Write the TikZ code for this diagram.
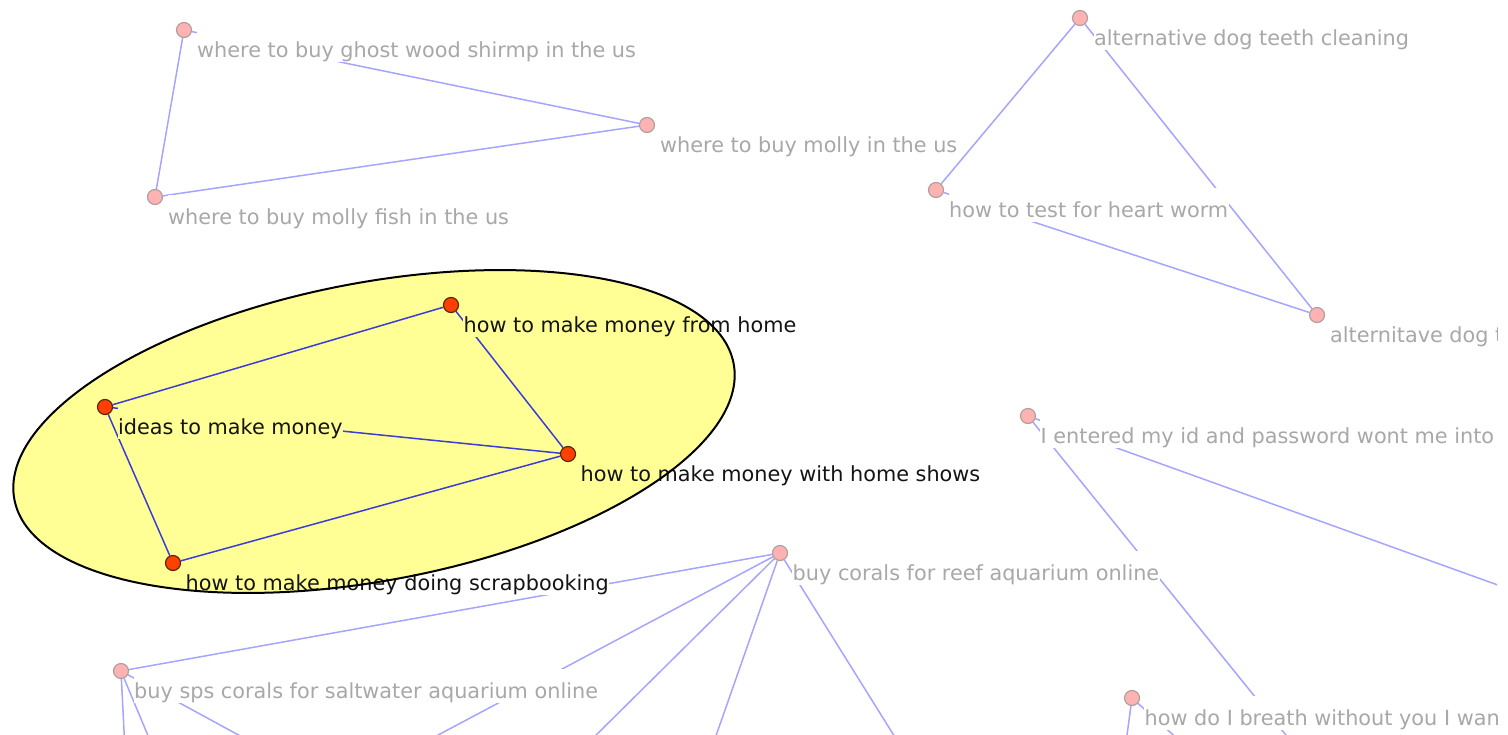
\documentclass[tikz,border=0pt]{standalone}
\usepackage{fontspec}
\newfontfamily\djv{DejaVu Sans}
\definecolor{dimblue}{RGB}{165,165,255}
\definecolor{hiblue}{RGB}{60,60,215}
\definecolor{dimtext}{RGB}{168,168,168}
\definecolor{hitext}{RGB}{20,20,20}
\definecolor{dimpink}{RGB}{255,178,178}
\definecolor{dimring}{RGB}{175,160,160}
\definecolor{hired}{RGB}{255,64,0}
\definecolor{hiring}{RGB}{90,40,0}
\definecolor{elly}{RGB}{255,255,150}
\pgfdeclarelayer{ellbg}
\pgfdeclarelayer{edges}
\pgfdeclarelayer{lblbg}
\pgfdeclarelayer{labels}
\pgfdeclarelayer{top}
\pgfsetlayers{ellbg,edges,lblbg,labels,main,top}
\tikzset{
  dimdot/.style={circle, minimum size=15pt, inner sep=0pt, fill=dimpink, draw=dimring, line width=1.2pt},
  hidot/.style={circle, minimum size=15pt, inner sep=0pt, fill=hired, draw=hiring, line width=1.2pt},
  lbl/.style={anchor=base west, inner xsep=0.5pt, inner ysep=0pt, text height=29pt, text depth=5pt,
    font=\djv\fontsize{20.8}{25}\selectfont},
  dimlbl/.style={lbl, text=dimtext},
  hilbl/.style={lbl, text=hitext},
  dimedge/.style={draw=dimblue, line width=1.5pt},
  hiedge/.style={draw=hiblue, line width=1.5pt},
  grpoutline/.style={draw=black, line width=2pt},
  grpshape/.style={rotate around={10.7:(E)}},
}
\newcommand{\viewclip}{\clip (0,0) rectangle (1497,734);}
\begin{document}
\begin{tikzpicture}[x=1pt,y=-1pt]
\useasboundingbox (0,0) rectangle (1508,734);
\viewclip
\coordinate (E) at (374,431.5);

% markers
\node[dimdot] (ghost) at (184,30) {};
\node[dimdot] (molly) at (647,125) {};
\node[dimdot] (mfish) at (155,197) {};
\node[dimdot] (altdog) at (1080,18) {};
\node[dimdot] (heart) at (936,190) {};
\node[dimdot] (altdog2) at (1317,315) {};
\node[hidot] (home) at (451,305) {};
\node[hidot] (ideas) at (105,407) {};
\node[hidot] (shows) at (568,454) {};
\node[hidot] (scrap) at (173,563) {};
\node[dimdot] (entered) at (1028,416) {};
\node[dimdot] (corals) at (780,553) {};
\node[dimdot] (sps) at (121,671) {};
\node[dimdot] (breath) at (1132,698) {};

% free ends beyond the frame
\coordinate (oE1) at (1298,750);
\coordinate (oE2) at (1520,593);
\coordinate (oC1) at (410,750);
\coordinate (oC2) at (581,750);
\coordinate (oC3) at (711,750);
\coordinate (oC4) at (903,750);
\coordinate (oS1) at (125,750);
\coordinate (oS2) at (154,750);
\coordinate (oS3) at (266,750);
\coordinate (oB1) at (1125,750);
\coordinate (oB2) at (1190,750);

\begin{pgfonlayer}{ellbg}
  \viewclip
  \fill[elly, grpshape] (E) ellipse [x radius=366, y radius=149];
\end{pgfonlayer}

\begin{pgfonlayer}{edges}
  \viewclip
  \draw[dimedge] (ghost) -- (mfish);
  \draw[dimedge] (ghost) -- (molly);
  \draw[dimedge] (mfish) -- (molly);
  \draw[dimedge] (altdog) -- (heart);
  \draw[dimedge] (altdog) -- (altdog2);
  \draw[dimedge] (heart) -- (altdog2);
  \draw[hiedge] (ideas) -- (home);
  \draw[hiedge] (home) -- (shows);
  \draw[hiedge] (ideas) -- (shows);
  \draw[hiedge] (ideas) -- (scrap);
  \draw[hiedge] (scrap) -- (shows);
  \draw[dimedge] (entered) -- (oE1);
  \draw[dimedge] (entered) -- (oE2);
  \draw[dimedge] (corals) -- (sps);
  \draw[dimedge] (corals) -- (oC1);
  \draw[dimedge] (corals) -- (oC2);
  \draw[dimedge] (corals) -- (oC3);
  \draw[dimedge] (corals) -- (oC4);
  \draw[dimedge] (sps) -- (oS1);
  \draw[dimedge] (sps) -- (oS2);
  \draw[dimedge] (sps) -- (oS3);
  \draw[dimedge] (breath) -- (oB1);
  \draw[dimedge] (breath) -- (oB2);
\end{pgfonlayer}

\begin{pgfonlayer}{labels}
  \viewclip
  \node[dimlbl] (lghost) at ([shift={(12.5,27)}]ghost.center) {where to buy ghost wood shirmp in the us};
  \node[dimlbl] (lmolly) at ([shift={(12.5,27)}]molly.center) {where to buy molly in the us};
  \node[dimlbl] (lmfish) at ([shift={(12.5,27)}]mfish.center) {where to buy molly fish in the us};
  \node[dimlbl] (laltdog) at ([shift={(13.5,27)}]altdog.center) {alternative dog teeth cleaning};
  \node[dimlbl] (lheart) at ([shift={(12.5,27)}]heart.center) {how to test for heart worm};
  \node[dimlbl] (laltdog2) at ([shift={(12.5,27)}]altdog2.center) {alternitave dog t};
  \node[hilbl] (lhome) at ([shift={(12,27)}]home.center) {how to make money from home};
  \node[hilbl] (lideas) at ([shift={(12.5,27)}]ideas.center) {ideas to make money};
  \node[hilbl] (lshows) at ([shift={(12,27)}]shows.center) {how to make money with home shows};
  \node[hilbl] (lscrap) at ([shift={(12,27)}]scrap.center) {how to make money doing scrapbooking};
  \node[dimlbl] (lentered) at ([shift={(12,27)}]entered.center) {I entered my id and password wont me into};
  \node[dimlbl] (lcorals) at ([shift={(12,27)}]corals.center) {buy corals for reef aquarium online};
  \node[dimlbl] (lsps) at ([shift={(12.5,27)}]sps.center) {buy sps corals for saltwater aquarium online};
  \node[dimlbl] (lbreath) at ([shift={(12,27)}]breath.center) {how do I breath without you I wan};
\end{pgfonlayer}

% label backgrounds: white, and yellow where they lie inside the group ellipse
\begin{pgfonlayer}{lblbg}
  \viewclip
  \foreach \n in {lghost,lmolly,lmfish,laltdog,lheart,laltdog2,lhome,lideas,lshows,lscrap,lentered,lcorals,lsps,lbreath}
    \fill[white] (\n.south west) rectangle (\n.north east);
  \begin{scope}
    \clip[grpshape] (E) ellipse [x radius=366, y radius=149];
    \foreach \n in {lhome,lideas,lshows,lscrap}
      \fill[elly] (\n.south west) rectangle (\n.north east);
  \end{scope}
\end{pgfonlayer}

\begin{pgfonlayer}{top}
  \viewclip
  \draw[grpoutline, grpshape] (E) ellipse [x radius=366, y radius=149];
\end{pgfonlayer}
\end{tikzpicture}
\end{document}
